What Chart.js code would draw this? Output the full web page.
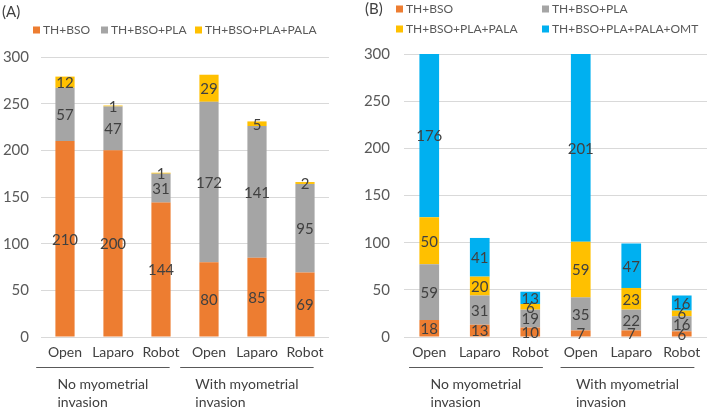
<!DOCTYPE html>
<html>
<head>
<meta charset="utf-8">
<script src="https://cdn.jsdelivr.net/npm/chart.js@4"></script>
<style>
    body { margin: 0; background: #fff; width: 709px; height: 409px; overflow: hidden; position: relative; }
    canvas { position: absolute; top: 0; }
    #chart-a { left: 0; }
    #chart-b { left: 354px; }
</style>
</head>
<body>
<canvas id="chart-a" width="354" height="409"></canvas>
<canvas id="chart-b" width="355" height="409"></canvas>
<script>
// categories and groups (shared by both panels)
const categories = ['Open', 'Laparo', 'Robot', 'Open', 'Laparo', 'Robot'];
const groups = [['No myometrial', 'invasion'], ['With myometrial', 'invasion']];
const yMin = 0, yMax = 300, yStep = 50;

const seriesNames = ['TH+BSO', 'TH+BSO+PLA', 'TH+BSO+PLA+PALA', 'TH+BSO+PLA+PALA+OMT'];
const seriesColors = ['#ED7D31', '#A5A5A5', '#FFC000', '#00B0F0'];

// panel (A)
const aThBso = [210, 200, 144, 80, 85, 69];
const aPla   = [57, 47, 31, 172, 141, 95];
const aPala  = [12, 1, 1, 29, 5, 2];

// panel (B)
const bThBso = [18, 13, 10, 7, 7, 6];
const bPla   = [59, 31, 19, 35, 22, 16];
const bPala  = [50, 20, 6, 59, 23, 6];
const bOmt   = [176, 41, 13, 201, 47, 16];

const FONT = 'Lato';
const TEXT = '#404040';

const panelPlugin = {
    id: 'panel',
    afterDatasetsDraw(chart) {
        const ctx = chart.ctx, area = chart.chartArea;
        ctx.save();
        ctx.font = `15px ${FONT}`;
        ctx.fillStyle = TEXT;
        ctx.textAlign = 'center';
        ctx.textBaseline = 'middle';
        chart.data.datasets.forEach((ds, di) => {
            chart.getDatasetMeta(di).data.forEach((bar, i) => {
                const top = Math.max(bar.y, area.top);
                const bot = Math.min(bar.base, area.bottom);
                ctx.fillText(String(ds.data[i]), bar.x, (top + bot) / 2 + 1);
            });
        });
        ctx.restore();
    },
    afterDraw(chart, args, opts) {
        const ctx = chart.ctx;
        ctx.save();
        // panel title
        ctx.font = `15px ${FONT}`;
        ctx.fillStyle = TEXT;
        ctx.textBaseline = 'middle';
        ctx.textAlign = 'left';
        ctx.fillText(opts.title, opts.titleX, opts.titleY);

        // legend
        ctx.font = `12px ${FONT}`;
        opts.legend.forEach((pos, i) => {
            ctx.fillStyle = seriesColors[i];
            ctx.fillRect(pos[0], pos[1] - 3.5, 7, 7);
            ctx.fillStyle = '#595959';
            ctx.fillText(seriesNames[i], pos[0] + 10, pos[1]);
        });

        // grouped category axis
        const x = chart.scales.x;
        const catW = x.width / categories.length;
        ctx.strokeStyle = '#595959';
        ctx.lineWidth = 1;
        ctx.font = `14px ${FONT}`;
        ctx.fillStyle = TEXT;
        groups.forEach((lines, g) => {
            const first = x.getPixelForValue(g * 3);
            const last = x.getPixelForValue(g * 3 + 2);
            const x0 = first - opts.lineL * catW, x1 = last + opts.lineR * catW;
            ctx.beginPath();
            ctx.moveTo(x0, 367.5);
            ctx.lineTo(x1, 367.5);
            ctx.stroke();
            const w = Math.max(...lines.map(t => ctx.measureText(t).width));
            const left = (x0 + x1) / 2 - w / 2;
            lines.forEach((t, k) => ctx.fillText(t, left, 384 + k * 18));
        });
        ctx.restore();
    }
};

function makeChart(id, series, cfg) {
    return new Chart(document.getElementById(id), {
        type: 'bar',
        data: {
            labels: categories,
            datasets: series.map((d, i) => ({
                label: seriesNames[i],
                data: d,
                backgroundColor: seriesColors[i],
                barPercentage: cfg.barPct,
                categoryPercentage: 1,
            })),
        },
        options: {
            responsive: false, animation: false,
            layout: { padding: { top: cfg.top, right: cfg.right, left: 0, bottom: 0 } },
            scales: {
                x: {
                    stacked: true,
                    grid: { display: false, drawTicks: false },
                    border: { display: false },
                    ticks: { color: TEXT, font: { family: FONT, size: 14 }, padding: 7, maxRotation: 0 },
                    afterFit(s) { s.height = 72; },
                },
                y: {
                    stacked: true, min: yMin, max: yMax,
                    ticks: { stepSize: yStep, color: '#595959', font: { family: FONT, size: 15 }, padding: cfg.tickPad },
                    grid: { color: '#D9D9D9', drawTicks: false },
                    border: { display: false },
                    afterFit(s) { s.width = cfg.yWidth; },
                },
            },
            plugins: { legend: { display: false }, tooltip: { enabled: false }, panel: cfg },
        },
        plugins: [panelPlugin],
    });
}

makeChart('chart-a', [aThBso, aPla, aPala], {
    title: '(A)', titleX: 2, titleY: 12,
    legend: [[33, 30], [101, 30], [195, 30]],
    top: 57, right: 25, yWidth: 41, tickPad: 12, barPct: 0.4,
    lineL: 0.6, lineR: 0.18,
});

makeChart('chart-b', [bThBso, bPla, bPala, bOmt], {
    title: '(B)', titleX: 11, titleY: 9,
    legend: [[42, 9], [188, 9], [42, 29], [188, 29]],
    top: 54, right: 2, yWidth: 50, tickPad: 14, barPct: 0.39,
    lineL: 0.4, lineR: 0.25,
});
</script>
</body>
</html>
